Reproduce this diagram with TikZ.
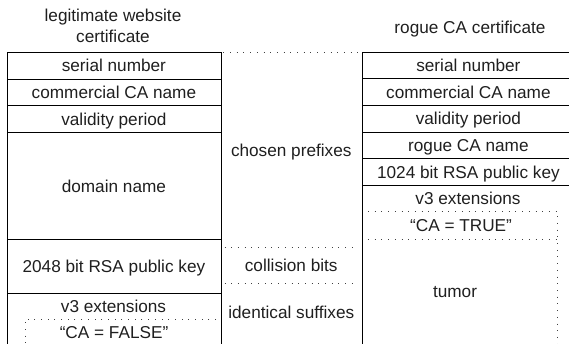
\documentclass[tikz,border=0pt]{standalone}
\usepackage{fontspec}
\setmainfont{Liberation Sans}
\begin{document}
\begin{tikzpicture}[x=1pt,y=-1pt,
  every node/.style={font=\fontsize{17.2}{20.5}\selectfont, text=black!88, inner sep=0pt, text height=12.4pt, text depth=0pt},
  lcell/.style={draw, line width=0.8pt, anchor=north west, minimum width=214pt},
  rcell/.style={draw, line width=0.8pt, anchor=north west, minimum width=212pt},
  dots/.style={line width=0.9pt, black!75, dash pattern=on 0.9pt off 5.8pt}]
\useasboundingbox (0,0) rectangle (569,344);
\clip (0,0) rectangle (569,344);
% titles
\node (lt1) at (113,15) {legitimate website};
\node (lt2) at (113,36) {certificate};
\node (rt) at (470,27) {rogue CA certificate};
% left certificate
\node[lcell, minimum height=26.7pt] (ls) at (6.5,52) {serial number};
\node[lcell, minimum height=26.7pt] (lc) at (6.5,78.7) {commercial CA name};
\node[lcell, minimum height=26.7pt] (lv) at (6.5,105.4) {validity period};
\node[lcell, minimum height=106.9pt] (ld) at (6.5,132.1) {domain name};
\node[lcell, minimum height=54pt] (lk) at (6.5,239) {2048 bit RSA public key};
\node[lcell, minimum height=90pt] (ll) at (6.5,293) {};
\node (lx) at (113.5,306) {v3 extensions};
\node (lf) at (114,332) {“CA = FALSE”};
\coordinate (fne) at (216,319);
\coordinate (fnw) at (25,319);
\coordinate (fsw) at (25,350);
\draw[dots] (fne) -- (fnw) -- (fsw);
% right certificate
\node[rcell, minimum height=26.5pt] (rs) at (362,52) {serial number};
\node[rcell, minimum height=26.6pt] (rc) at (362,78.5) {commercial CA name};
\node[rcell, minimum height=26.6pt] (rv) at (362,105.1) {validity period};
\node[rcell, minimum height=26.6pt] (rr) at (362,131.7) {rogue CA name};
\node[rcell, minimum height=26.7pt] (rk) at (362,158.3) {1024 bit RSA public key};
\node[rcell, minimum height=200pt] (rl) at (362,185) {};
\node (rx) at (468,198) {v3 extensions};
\node (rtrue) at (461,225) {“CA = TRUE”};
\node (tm) at (455,291.5) {tumor};
\coordinate (tnw) at (368,211.7);
\coordinate (tne) at (557.7,211.7);
\coordinate (tsw) at (368,239);
\coordinate (tse) at (557.7,239);
\coordinate (tbot) at (557.7,350);
\draw[dots] (tnw) -- (tne) -- (tbot);
\draw[dots] (tsw) -- (tse);
% middle
\draw[dots, shorten <=2pt, shorten >=2pt] (ls.north east) -- (rs.north west);
\node (cp) at (291.25,150) {chosen prefixes};
\node[minimum width=133pt, minimum height=35pt] (cb) at (291.25,265.5) {collision bits};
\draw[dots] (cb.north west) -- (cb.north east);
\draw[dots] (cb.south west) -- (cb.south east);
\node (is) at (291.25,312) {identical suffixes};
\end{tikzpicture}
\end{document}
